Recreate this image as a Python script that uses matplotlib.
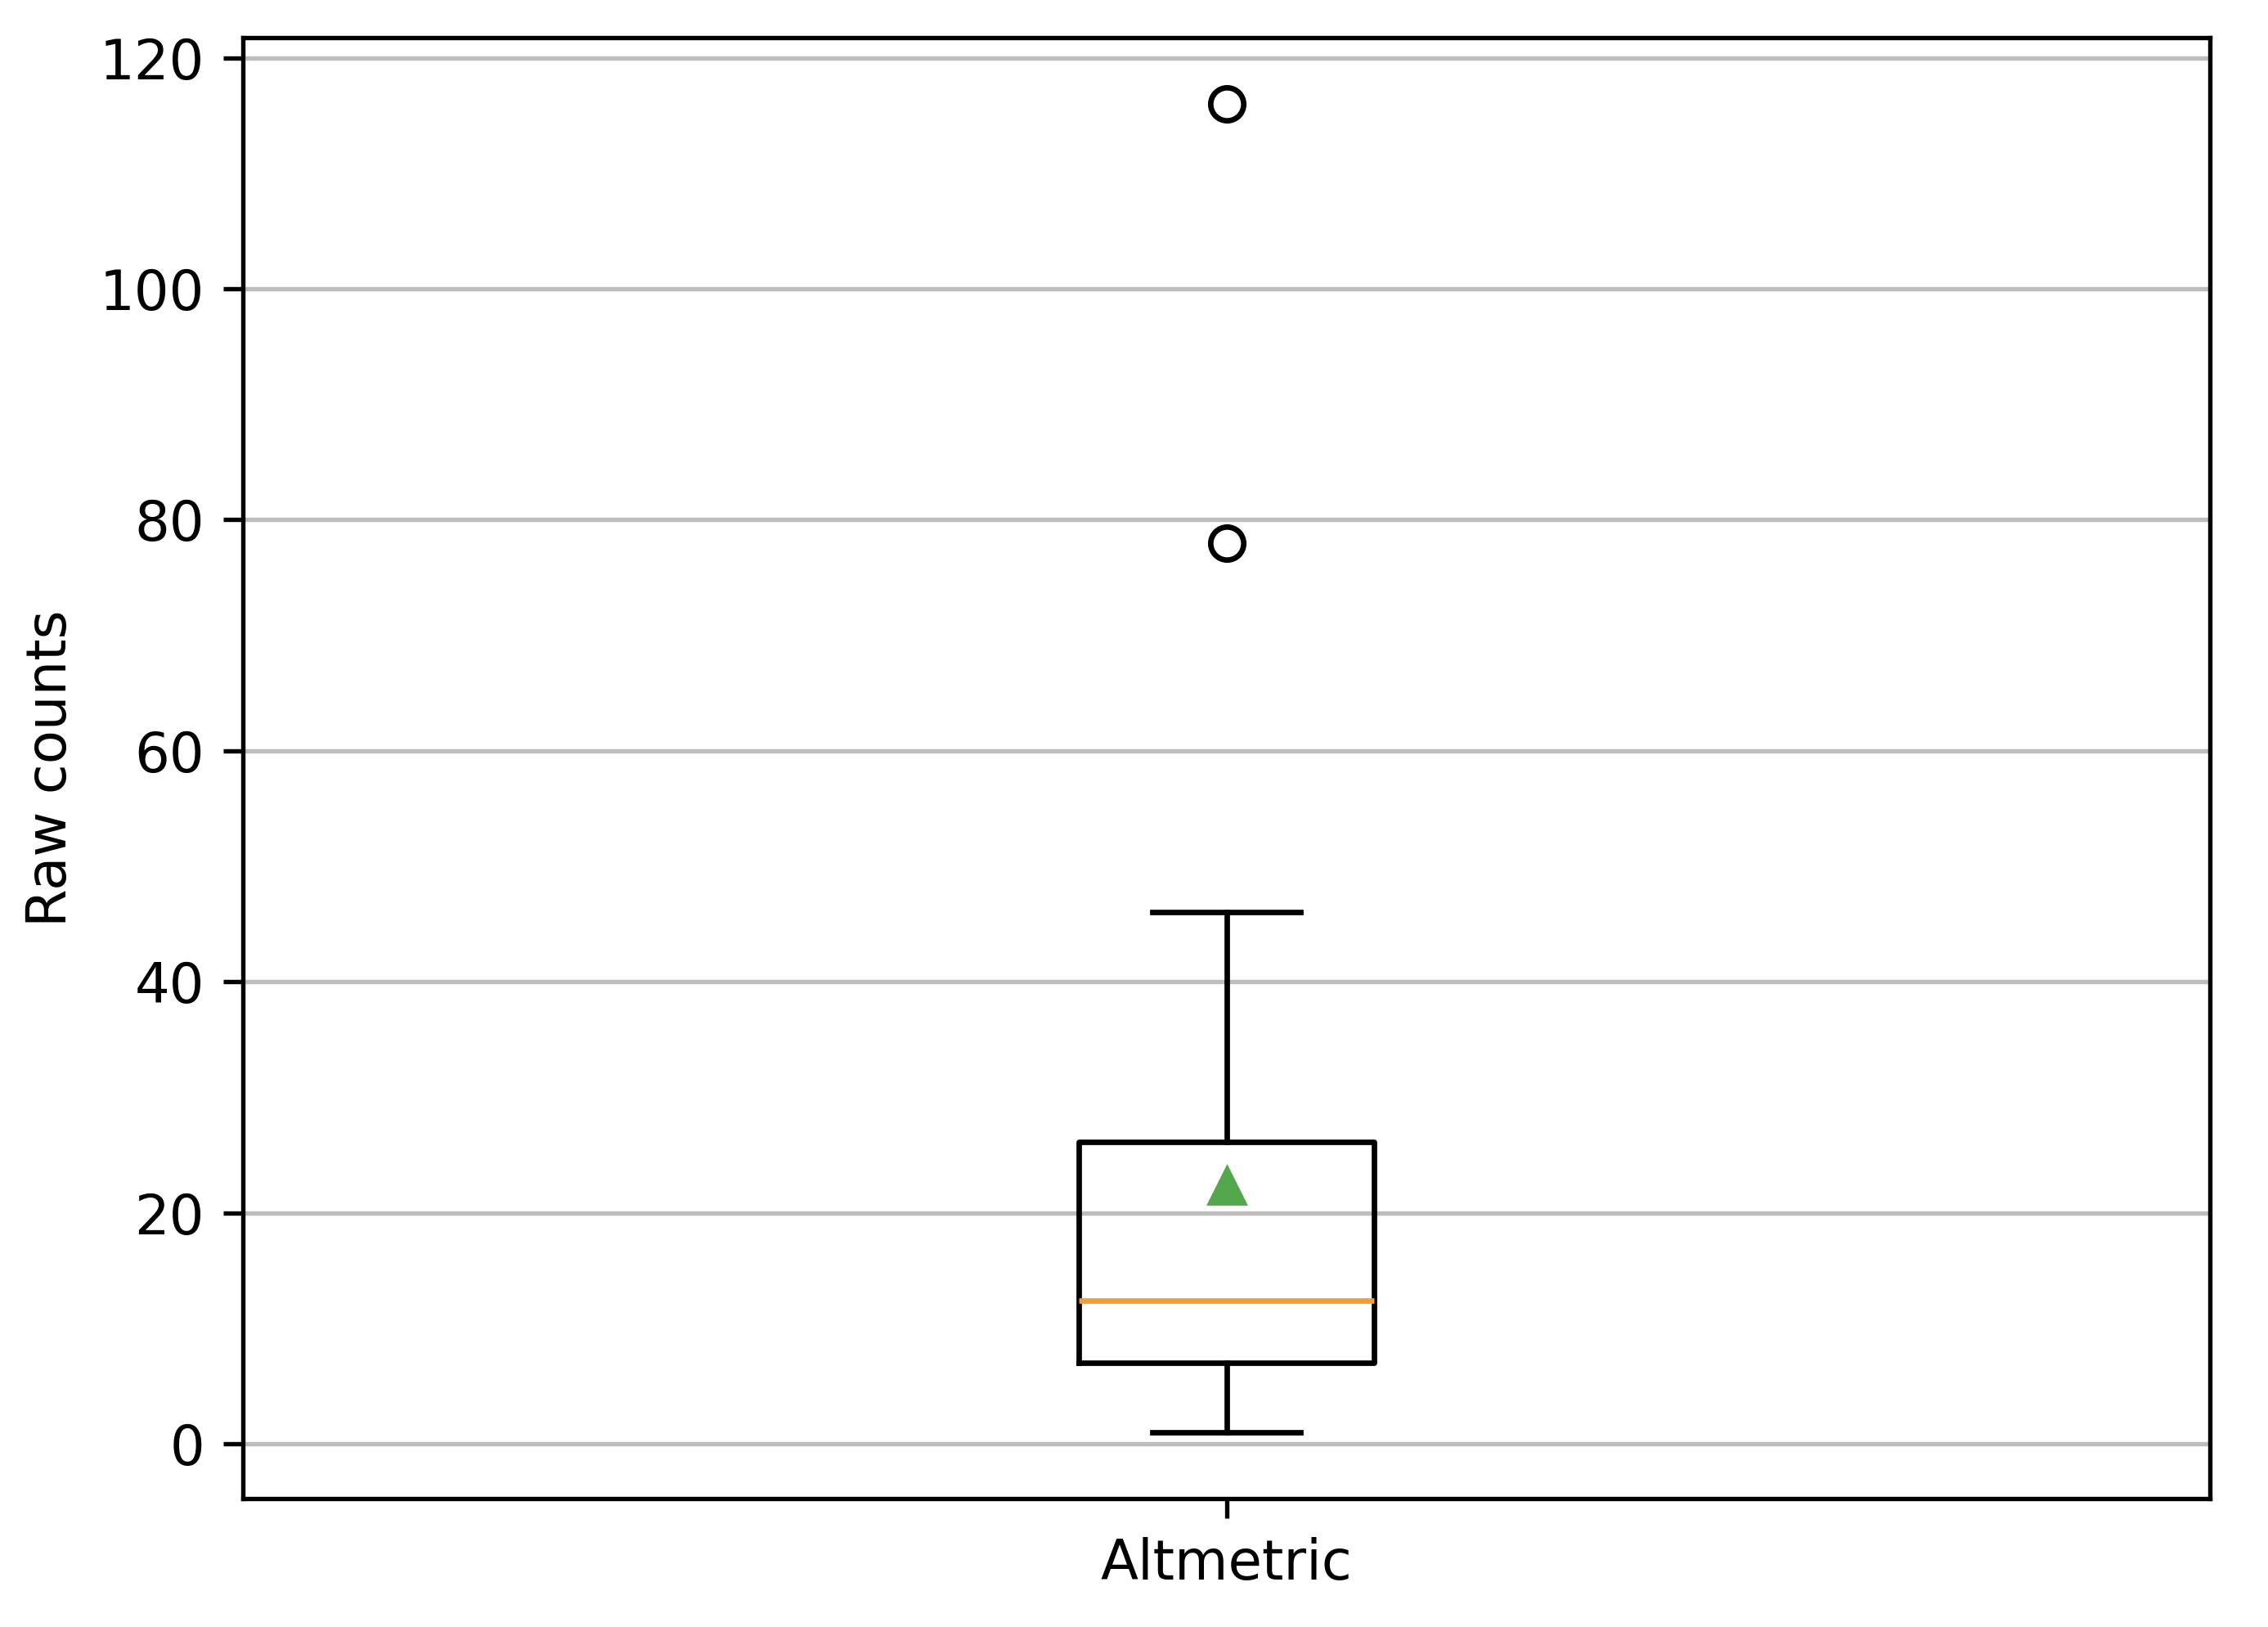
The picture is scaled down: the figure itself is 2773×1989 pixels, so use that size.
import matplotlib
matplotlib.use("Agg")
import matplotlib.pyplot as plt

# Data
labels = ["Altmetric"]
whisker_low = [1.0]
q1 = [7.0]
median = [12.4]
mean = [22.3]
q3 = [26.1]
whisker_high = [46.0]
outliers = [[78.0, 116.0]]

stats = []
for i, lab in enumerate(labels):
    stats.append(dict(label=lab, whislo=whisker_low[i], q1=q1[i], med=median[i],
                      mean=mean[i], q3=q3[i], whishi=whisker_high[i],
                      fliers=outliers[i]))

fig = plt.figure(figsize=(2773/484, 1989/484), dpi=484)
ax = fig.add_axes([297/2773, 1-1832/1989, (2702-297)/2773, (1832-46)/1989])
ax.bxp(stats, showmeans=True,
       medianprops=dict(color="#f29b38"),
       meanprops=dict(marker="^", markerfacecolor="#52a84a", markeredgecolor="#52a84a"))
ax.yaxis.grid(True, color="#bdbdbd")
ax.set_axisbelow(True)
ax.set_ylabel("Raw counts")
fig.savefig("out.png", dpi=484)
